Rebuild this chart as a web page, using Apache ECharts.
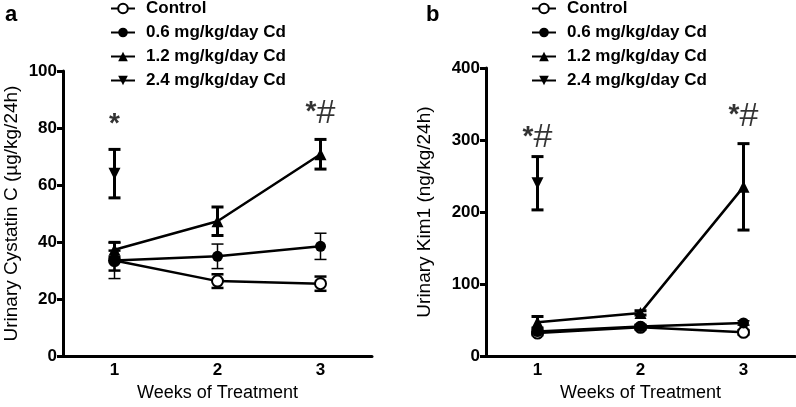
<!DOCTYPE html>
<html>
<head>
<meta charset="utf-8">
<script src="https://cdn.jsdelivr.net/npm/echarts@6/dist/echarts.min.js"></script>
<style>html,body{margin:0;padding:0;background:#fff}#c{width:796px;height:407px}</style>
</head>
<body>
<div id="c"></div>
<script>
// ---- data ----
var weeks = ['1', '2', '3'];
var seriesNames = ['Control', '0.6 mg/kg/day Cd', '1.2 mg/kg/day Cd', '2.4 mg/kg/day Cd'];

// Panel a: Urinary Cystatin C (µg/kg/24h)
var cysControl = [33.5, 26.3, 25.4];
var cysControlSem = [3.5, 2.4, 2.5];
var cys06 = [33.5, 35.0, 38.5];
var cys06Sem = [6.3, 4.3, 4.6];
var cys12 = [37.3, 47.3, 70.8];
var cys12Sem = [2.6, 5.0, 5.2];
var cys24 = [64.0, null, null];
var cys24Sem = [8.5, null, null];
var cysYTicks = {min: 0, max: 100, interval: 20};
var cysAnnot = [[0, 81, '*'], [2, 85, '*#']];

// Panel b: Urinary Kim1 (ng/kg/24h)
var kimControl = [32, 40, 33];
var kimControlSem = [3, 3, 3];
var kim06 = [34, 41, 46];
var kim06Sem = [3, 3, 3];
var kim12 = [47, 60, 235];
var kim12Sem = [8, 3, 60];
var kim24 = [240, null, null];
var kim24Sem = [37, null, null];
var kimYTicks = {min: 0, max: 400, interval: 100};
var kimAnnot = [[0, 303, '*#'], [2, 333, '*#']];

// ---- chart ----
var FONT = 'Liberation Sans, Arial, sans-serif';
var chart = echarts.init(document.getElementById('c'), null, {renderer: 'canvas'});

var symbols = ['emptyCircle', 'circle', 'triangle', 'triangle'];
var rotates = [0, 0, 0, 180];
var sizes = [11, 11, 12, 12];
var errWidths = [2.5, 1.5, 3, 3];

function errData(mean, sem) {
  var out = [];
  for (var i = 0; i < mean.length; i++) {
    if (mean[i] != null && sem[i] != null) out.push([i, mean[i] - sem[i], mean[i] + sem[i]]);
  }
  return out;
}

function errSeries(idx, mean, sem, w) {
  return {
    type: 'custom', xAxisIndex: idx, yAxisIndex: idx, z: 3, silent: true,
    data: errData(mean, sem),
    renderItem: function (params, api) {
      var x = api.value(0);
      var lo = api.coord([x, api.value(1)]);
      var hi = api.coord([x, api.value(2)]);
      var hw = 6;
      var st = {stroke: '#000', lineWidth: w};
      return {type: 'group', children: [
        {type: 'line', shape: {x1: lo[0], y1: lo[1], x2: hi[0], y2: hi[1]}, style: st},
        {type: 'line', shape: {x1: lo[0] - hw, y1: lo[1], x2: lo[0] + hw, y2: lo[1]}, style: st},
        {type: 'line', shape: {x1: hi[0] - hw, y1: hi[1], x2: hi[0] + hw, y2: hi[1]}, style: st}
      ]};
    }
  };
}

function lineSeries(idx, k, data) {
  return {
    type: 'line', name: seriesNames[k], xAxisIndex: idx, yAxisIndex: idx, z: 4,
    data: data, symbol: symbols[k], symbolRotate: rotates[k], symbolSize: sizes[k],
    showSymbol: true, connectNulls: false, animation: false,
    lineStyle: {color: '#000', width: 2.5},
    itemStyle: {color: '#000', borderColor: '#000', borderWidth: k === 0 ? 2.5 : 0}
  };
}

function annotSeries(idx, ann) {
  return {
    type: 'scatter', xAxisIndex: idx, yAxisIndex: idx, symbolSize: 0, silent: true,
    data: ann.map(function (a) { return {value: [a[0], a[1]], txt: a[2]}; }),
    label: {
      show: true, position: 'inside',
      formatter: function (p) {
        var t = p.data.txt;
        return '{s|*}' + (t.indexOf('#') >= 0 ? '{h|#}' : '');
      },
      rich: {
        s: {fontSize: 28, fontWeight: 'bold', fontFamily: FONT, color: '#000', verticalAlign: 'top', lineHeight: 30, padding: [0, 0, 8, 0]},
        h: {fontSize: 34, fontFamily: FONT, color: '#000', lineHeight: 30}
      }
    }
  };
}

function xAxisCfg(gi) {
  return {
    type: 'category', gridIndex: gi, data: weeks, boundaryGap: true,
    name: 'Weeks of Treatment', nameLocation: 'middle', nameGap: 23,
    nameTextStyle: {fontFamily: FONT, fontSize: 18, color: '#000'},
    axisLine: {lineStyle: {color: '#000', width: 3}},
    axisTick: {alignWithLabel: true, inside: true, length: 8, lineStyle: {color: '#000', width: 3}},
    axisLabel: {fontFamily: FONT, fontSize: 17, fontWeight: 'bold', color: '#000', margin: 6},
    splitLine: {show: false}
  };
}

function yAxisCfg(gi, ticks, name, gap) {
  return {
    type: 'value', gridIndex: gi, min: ticks.min, max: ticks.max, interval: ticks.interval,
    name: name, nameLocation: 'middle', nameGap: gap, nameRotate: 90,
    nameTextStyle: {fontFamily: FONT, fontSize: 19, color: '#000'},
    axisLine: {show: true, lineStyle: {color: '#000', width: 3}},
    axisTick: {show: true, length: 6, lineStyle: {color: '#000', width: 3}},
    axisLabel: {fontFamily: FONT, fontSize: 17, fontWeight: 'bold', color: '#000', margin: 6},
    splitLine: {show: false}
  };
}

function legendCfg(left, names) {
  return {
    orient: 'vertical', left: left, top: -5, itemWidth: 24, itemHeight: 12, itemGap: 7,
    data: names,
    textStyle: {fontFamily: FONT, fontSize: 17, fontWeight: 'bold', color: '#000', padding: [0, 0, 0, 6]},
    selectedMode: false
  };
}

var option = {
  animation: false,
  backgroundColor: '#fff',
  grid: [
    {left: 63, top: 71, width: 309, height: 288},
    {left: 486, top: 68, width: 309, height: 289}
  ],
  xAxis: [xAxisCfg(0), xAxisCfg(1)],
  yAxis: [
    yAxisCfg(0, cysYTicks, 'Urinary Cystatin C (µg/kg/24h)', 42),
    yAxisCfg(1, kimYTicks, 'Urinary Kim1 (ng/kg/24h)', 52)
  ],
  legend: [legendCfg(105, seriesNames), legendCfg(526, seriesNames)],
  graphic: [
    {type: 'text', left: 5, top: 4, style: {text: 'a', font: 'bold 22px ' + FONT, fill: '#000'}},
    {type: 'text', left: 426, top: 4, style: {text: 'b', font: 'bold 22px ' + FONT, fill: '#000'}}
  ],
  series: [
    errSeries(0, cysControl, cysControlSem, errWidths[0]),
    errSeries(0, cys06, cys06Sem, errWidths[1]),
    errSeries(0, cys12, cys12Sem, errWidths[2]),
    errSeries(0, cys24, cys24Sem, errWidths[3]),
    lineSeries(0, 0, cysControl),
    lineSeries(0, 1, cys06),
    lineSeries(0, 2, cys12),
    lineSeries(0, 3, cys24),
    annotSeries(0, cysAnnot),
    errSeries(1, kimControl, kimControlSem, errWidths[0]),
    errSeries(1, kim06, kim06Sem, errWidths[1]),
    errSeries(1, kim12, kim12Sem, errWidths[2]),
    errSeries(1, kim24, kim24Sem, errWidths[3]),
    lineSeries(1, 0, kimControl),
    lineSeries(1, 1, kim06),
    lineSeries(1, 2, kim12),
    lineSeries(1, 3, kim24),
    annotSeries(1, kimAnnot)
  ]
};
chart.setOption(option);
</script>
</body>
</html>
